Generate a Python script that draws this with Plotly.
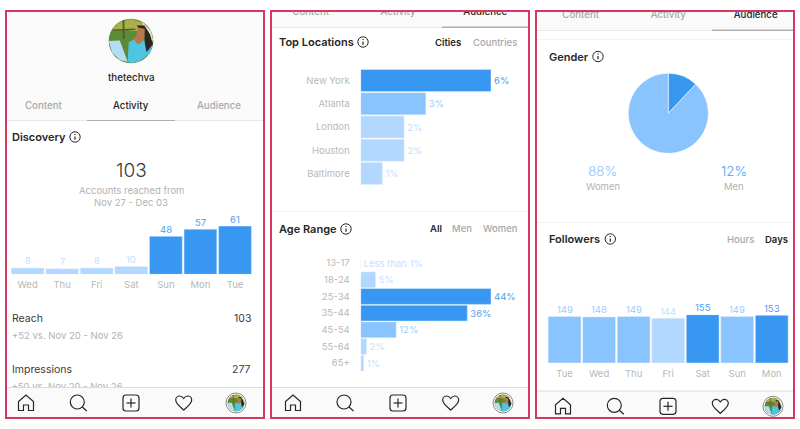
import re
import plotly.graph_objects as go

W, H = 800, 429

# chart data
discovery_days = ["Wed", "Thu", "Fri", "Sat", "Sun", "Mon", "Tue"]
discovery_values = [8, 7, 8, 10, 48, 57, 61]
location_names = ["New York", "Atlanta", "London", "Houston", "Baltimore"]
location_values = [6, 3, 2, 2, 1]
age_names = ["13-17", "18-24", "25-34", "35-44", "45-54", "55-64", "65+"]
age_values = [0, 5, 44, 36, 12, 2, 1]
age_labels = ["Less than 1%", "5%", "44%", "36%", "12%", "2%", "1%"]
gender_names = ["Men", "Women"]
gender_values = [12, 88]
follower_days = ["Tue", "Wed", "Thu", "Fri", "Sat", "Sun", "Mon"]
follower_values = [149, 148, 149, 144, 155, 149, 153]

DARK = "#3897f0"
MID = "#8ac4ff"
LIGHT = "#b3d8ff"
TEXT_DARK = "#4a9ff2"
TEXT_MID = "#9accff"
TEXT_LIGHT = "#c4e0ff"
INK = "#262626"
GREY = "#b2b2b2"
TICK = "#b8b8b8"
PINK = "#d63864"
FONT = "Inter"


def px(x):
    return x / W


def py(y):
    return 1 - y / H


def path_px(d):
    # turn an svg path written in screen pixels into paper coordinates
    tokens = re.findall(r"[A-Za-z]|-?\d+\.?\d*", d)
    out, is_x = [], True
    for t in tokens:
        if t.isalpha():
            out.append(t)
            is_x = True
        else:
            out.append(f"{px(float(t)):.5f}" if is_x else f"{py(float(t)):.5f}")
            is_x = not is_x
    return " ".join(out)


shapes = []
annotations = []


def rect(x0, y0, x1, y1, fill, layer="below"):
    shapes.append(dict(type="rect", xref="paper", yref="paper", x0=px(x0), x1=px(x1), y0=py(y0), y1=py(y1),
                       fillcolor=fill, line_width=0, layer=layer))


def circle(cx, cy, r, fill="rgba(0,0,0,0)", line=None, width=1):
    shapes.append(dict(type="circle", xref="paper", yref="paper", x0=px(cx - r), x1=px(cx + r),
                       y0=py(cy - r), y1=py(cy + r), fillcolor=fill,
                       line=dict(color=line or "rgba(0,0,0,0)", width=width if line else 0), layer="above"))


def path(d, fill="rgba(0,0,0,0)", line=INK, width=1.2):
    shapes.append(dict(type="path", xref="paper", yref="paper", path=path_px(d), fillcolor=fill,
                       line=dict(color=line, width=width), layer="above"))


def label(x, y, text, size=10.5, color=GREY, anchor="left", weight=400):
    annotations.append(dict(xref="paper", yref="paper", x=px(x), y=py(y), text=text, showarrow=False,
                            xanchor=anchor, yanchor="middle", borderpad=0, borderwidth=0,
                            font=dict(family=FONT, size=size, color=color, weight=weight)))


def bar_labels(days, values, colors, xref, yref):
    # value labels sit closer to the bars than the trace's own outside text can
    for day, v, c in zip(days, values, colors):
        annotations.append(dict(xref=xref, yref=yref, x=day, y=v, text=str(v), showarrow=False, yanchor="bottom",
                                yshift=1.5, borderpad=0, borderwidth=0, font=dict(family=FONT, size=9.5, color=c)))


def info(cx, cy):
    circle(cx, cy, 5.2, line=INK, width=1)
    path(f"M {cx} {cy - 0.6} L {cx} {cy + 2.8}", width=1.2)
    path(f"M {cx} {cy - 3} L {cx} {cy - 2}", width=1.2)


# rough copy of the profile picture, unit circle coordinates
PHOTO = [
    ("#a9b04a", [(-.6, -.8), (0, -1), (.6, -.8), (.95, -.3), (.3, -.45), (-.3, -.5), (-.85, -.5)]),
    ("#5b5430", [(-.38, -.92), (-.3, -.95), (-.28, -.1), (-.36, -.1)]),
    ("#5b5430", [(-.8, -.52), (.2, -.56), (.2, -.5), (-.85, -.46)]),
    ("#dfe3c2", [(.5, -.85), (.9, -.45), (1, 0), (.7, -.1)]),
    ("#b5dcf5", [(-1, 0), (-.5, -.02), (-.15, .93), (-.5, .85), (-.85, .5)]),
    ("#4ec6e2", [(-.1, .05), (.3, -.15), (.55, -.02), (.85, .1), (.98, .2), (.85, .55), (.4, .9), (0, 1), (-.15, .93)]),
    ("#2d2320", [(.25, -.7), (.6, -.7), (.85, -.3), (.98, .15), (.7, .5), (.62, .1), (.6, -.3)]),
    ("#b9784e", [(.3, -.6), (.62, -.55), (.6, -.15), (.45, .1), (.3, .15), (.1, -.1), (.25, -.25)]),
]


def avatar(cx, cy, r):
    circle(cx, cy, r, fill="#5d8a35")
    for color, pts in PHOTO:
        d = "M " + " L ".join(f"{cx + u * r:.2f} {cy + v * r:.2f}" for u, v in pts) + " Z"
        path(d, fill=color, line=color, width=0)


def nav_icons(xs, cy):
    x = xs[0]
    path(f"M {x - 7.5} {cy + 7.5} L {x - 7.5} {cy - 1.5} L {x} {cy - 8} L {x + 7.5} {cy - 1.5} L {x + 7.5} {cy + 7.5} "
         f"L {x + 2.5} {cy + 7.5} L {x + 2.5} {cy + 2} L {x - 2.5} {cy + 2} L {x - 2.5} {cy + 7.5} Z")
    x = xs[1]
    circle(x - 1, cy - 1, 7, line=INK, width=1.2)
    path(f"M {x + 4} {cy + 4} L {x + 8.5} {cy + 8}")
    x = xs[2]
    path(f"M {x - 5} {cy - 8} L {x + 5} {cy - 8} Q {x + 8} {cy - 8} {x + 8} {cy - 5} L {x + 8} {cy + 5} "
         f"Q {x + 8} {cy + 8} {x + 5} {cy + 8} L {x - 5} {cy + 8} Q {x - 8} {cy + 8} {x - 8} {cy + 5} "
         f"L {x - 8} {cy - 5} Q {x - 8} {cy - 8} {x - 5} {cy - 8} Z")
    path(f"M {x - 4.5} {cy} L {x + 4.5} {cy}")
    path(f"M {x} {cy - 4.5} L {x} {cy + 4.5}")
    x = xs[3]
    path(f"M {x} {cy + 7} C {x - 2} {cy + 5} {x - 8} {cy + 1} {x - 8} {cy - 3} C {x - 8} {cy - 6} {x - 5.5} {cy - 7} {x - 4} {cy - 7} "
         f"C {x - 2} {cy - 7} {x - 0.7} {cy - 5.5} {x} {cy - 4.5} C {x + 0.7} {cy - 5.5} {x + 2} {cy - 7} {x + 4} {cy - 7} "
         f"C {x + 5.5} {cy - 7} {x + 8} {cy - 6} {x + 8} {cy - 3} C {x + 8} {cy + 1} {x + 2} {cy + 5} {x} {cy + 7} Z")
    x = xs[4]
    circle(x, cy, 10, fill="#ffffff", line="#8a8a8a", width=1)
    avatar(x, cy, 8.5)


# panel backgrounds
rect(6, 11, 264, 418, "#ffffff")
rect(271, 11, 529, 418, "#ffffff")
rect(536, 11, 794, 418, "#ffffff")
rect(6, 11, 264, 120, "#fafafa")
rect(271, 11, 529, 27, "#fafafa")
rect(536, 11, 794, 30, "#fafafa")
rect(6, 387, 264, 418, "#fafafa")
rect(271, 387, 529, 418, "#fafafa")
rect(536, 391, 794, 418, "#fafafa")

# dividers and active tab lines
rect(6, 120, 264, 121, "#e8e8e8")
rect(87, 120, 175, 121, "#b0b0b0")
rect(271, 27, 529, 28, "#e8e8e8")
rect(442, 26.5, 529, 28, "#b0b0b0")
rect(536, 30, 794, 31, "#e8e8e8")
rect(712, 29.5, 794, 31, "#b0b0b0")
rect(536, 39, 794, 40, "#f2f2f2")
rect(536, 222, 794, 223, "#f2f2f2")
rect(271, 211, 529, 212, "#f2f2f2")
rect(6, 387, 264, 388, "#dbdbdb")
rect(271, 387, 529, 388, "#dbdbdb")
rect(536, 390.5, 794, 391.5, "#dbdbdb")

# first panel text
avatar(131, 41, 22.3)
label(131, 77, "thetechva", 9.8, INK, "center", 500)
label(43.7, 105, "Content", 9.7, "#a8a8a8", "center", 500)
label(131, 105, "Activity", 9.7, INK, "center", 500)
label(218.7, 105, "Audience", 9.7, "#a8a8a8", "center", 500)
label(11.5, 137, "Discovery", 11, INK, "left", 600)
info(75, 137)
label(131, 171, "103", 19, "#3a3a3a", "center", 300)
label(131, 190.5, "Accounts reached from", 9.5, GREY, "center")
label(131, 202, "Nov 27 - Dec 03", 9.5, GREY, "center")
label(11.5, 318, "Reach", 10.5, "#3a3a3a")
label(250.5, 318, "103", 10.5, "#3a3a3a", "right")
label(11.5, 335, "+52 vs. Nov 20 - Nov 26", 9.5, GREY)
label(11.5, 369, "Impressions", 10.5, "#3a3a3a")
label(250.5, 369, "277", 10.5, "#3a3a3a", "right")

# second panel text
label(278.7, 42, "Top Locations", 11, INK, "left", 600)
info(363, 42)
label(448, 42.5, "Cities", 9.5, INK, "center", 600)
label(495, 42.5, "Countries", 9.5, "#a8a8a8", "center", 500)
label(278.7, 228.7, "Age Range", 11, INK, "left", 600)
info(346, 229)
label(435.7, 228.7, "All", 9.5, INK, "center", 600)
label(462.3, 228.7, "Men", 9.5, "#a8a8a8", "center", 500)
label(500.3, 228.7, "Women", 9.5, "#a8a8a8", "center", 500)

# third panel text
label(548.7, 56.5, "Gender", 11, INK, "left", 600)
info(598, 56.5)
label(602.7, 171, "88%", 13.5, MID, "center", 300)
label(602.7, 186.5, "Women", 9.5, GREY, "center")
label(733.7, 171, "12%", 13.5, TEXT_DARK, "center", 300)
label(733.7, 186.5, "Men", 9.5, GREY, "center")
label(548.7, 239, "Followers", 11, INK, "left", 600)
info(610.3, 239)
label(740, 239.5, "Hours", 9.5, "#a8a8a8", "center", 500)
label(776.3, 239.5, "Days", 9.5, INK, "center", 600)

nav_icons([26, 78.3, 131, 183.7, 236], 403)
nav_icons([293, 345, 398, 450.7, 503], 403)
nav_icons([563, 615.3, 668, 720.3, 773], 406.3)

# panel frames go last so they sit over everything
for x0, x1 in [(6, 264), (271, 529), (536, 794)]:
    shapes.append(dict(type="rect", xref="paper", yref="paper", x0=px(x0), x1=px(x1), y0=py(11), y1=py(418),
                       fillcolor="rgba(0,0,0,0)", line=dict(color=PINK, width=2), layer="above"))

fig = go.Figure()

discovery_colors = [LIGHT] * 4 + [DARK] * 3
discovery_text_colors = [TEXT_LIGHT] * 4 + [TEXT_DARK] * 3
fig.add_trace(go.Bar(x=discovery_days, y=discovery_values, xaxis="x", yaxis="y", marker_color=discovery_colors))
bar_labels(discovery_days, discovery_values, discovery_text_colors, "x", "y")

location_colors = [DARK, MID, LIGHT, LIGHT, LIGHT]
location_text_colors = [TEXT_DARK, TEXT_MID, TEXT_LIGHT, TEXT_LIGHT, TEXT_LIGHT]
fig.add_trace(go.Bar(x=location_values, y=location_names, orientation="h", xaxis="x2", yaxis="y2",
                     text=[f"{v}%" for v in location_values], marker_color=location_colors, textposition="outside",
                     cliponaxis=False, constraintext="none",
                     textfont=dict(family=FONT, size=9.5, color=location_text_colors)))

age_colors = [LIGHT, LIGHT, DARK, DARK, MID, LIGHT, LIGHT]
age_text_colors = [TEXT_LIGHT, TEXT_LIGHT, TEXT_DARK, TEXT_DARK, TEXT_MID, TEXT_LIGHT, TEXT_LIGHT]
fig.add_trace(go.Bar(x=age_values, y=age_names, orientation="h", xaxis="x3", yaxis="y3", text=age_labels,
                     marker_color=age_colors, textposition="outside", cliponaxis=False, constraintext="none",
                     textfont=dict(family=FONT, size=9.5, color=age_text_colors)))

follower_colors = [MID, MID, MID, LIGHT, DARK, MID, DARK]
follower_text_colors = [TEXT_MID, TEXT_MID, TEXT_MID, TEXT_LIGHT, TEXT_DARK, TEXT_MID, TEXT_DARK]
fig.add_trace(go.Bar(x=follower_days, y=follower_values, xaxis="x4", yaxis="y4", marker_color=follower_colors))
bar_labels(follower_days, follower_values, follower_text_colors, "x4", "y4")

fig.add_trace(go.Pie(labels=gender_names, values=gender_values, sort=False, direction="clockwise", rotation=0,
                     marker=dict(colors=[DARK, MID], line=dict(color="#ffffff", width=0.5)), textinfo="none",
                     showlegend=False, domain=dict(x=[px(628.3), px(708.3)], y=[py(153.3), py(73.3)])))

# text that the original cuts off: clipped by the range of these page-sized axes
fig.add_trace(go.Scatter(x=[11.5], y=[387.5], text=["+50 vs. Nov 20 - Nov 26"], mode="text", xaxis="x5", yaxis="y5",
                         textposition="middle right", textfont=dict(family=FONT, size=9.5, color=GREY)))
fig.add_trace(go.Scatter(x=[310.7, 398, 485.3, 580.7, 668.3, 755.7], y=[13, 13, 13, 16, 16, 16],
                         text=["Content", "Activity", "Audience", "Content", "Activity", "Audience"],
                         mode="text", xaxis="x6", yaxis="y6", textposition="middle center",
                         textfont=dict(family=FONT, size=9.7, weight=500,
                                       color=["#a8a8a8", "#a8a8a8", INK, "#a8a8a8", "#a8a8a8", INK]),))


def cat_axis(x0, x1, anchor, **kw):
    return dict(domain=[px(x0), px(x1)], anchor=anchor, showgrid=False, zeroline=False, showline=False, ticks="",
                fixedrange=True, tickfont=dict(family=FONT, size=9.5, color=TICK), **kw)


def value_axis(y0, y1, anchor, top):
    return dict(domain=[py(y1), py(y0)], anchor=anchor, range=[0, top], visible=False, fixedrange=True)


fig.update_layout(
    width=W, height=H, margin=dict(l=0, r=0, t=0, b=0), autosize=False,
    paper_bgcolor="#ffffff", plot_bgcolor="rgba(0,0,0,0)", showlegend=False, bargap=0.05,
    shapes=shapes, annotations=annotations,
    xaxis=cat_axis(10.3, 252.3, "y", ticklabelstandoff=3),
    yaxis=value_axis(226, 274.3, "x", max(discovery_values)),
    xaxis2=dict(domain=[px(360.7), px(491)], anchor="y2", range=[0, max(location_values)], visible=False, fixedrange=True),
    yaxis2=dict(domain=[py(185.1), py(68.9)], anchor="x2", autorange="reversed", showgrid=False, zeroline=False,
                showline=False, fixedrange=True, ticklabelstandoff=10, tickfont=dict(family=FONT, size=9.5, color=TICK)),
    xaxis3=dict(domain=[px(360.7), px(491)], anchor="y3", range=[0, max(age_values)], visible=False, fixedrange=True),
    yaxis3=dict(domain=[py(371.5), py(254.8)], anchor="x3", autorange="reversed", showgrid=False, zeroline=False,
                showline=False, fixedrange=True, ticklabelstandoff=10, tickfont=dict(family=FONT, size=9.5, color=TICK)),
    xaxis4=cat_axis(547.3, 789, "y4", ticklabelstandoff=3),
    yaxis4=value_axis(314.7, 363, "x4", max(follower_values)),
    xaxis5=dict(domain=[0, 1], anchor="y5", range=[0, W], visible=False, fixedrange=True),
    yaxis5=dict(domain=[py(387), 1], anchor="x5", range=[387, 0], visible=False, fixedrange=True),
    xaxis6=dict(domain=[0, 1], anchor="y6", range=[0, W], visible=False, fixedrange=True),
    yaxis6=dict(domain=[0, py(12)], anchor="x6", range=[H, 12], visible=False, fixedrange=True),
)

# the page body has a default margin, drop it so the figure fills the window
fig.write_html("out.html", config={"displayModeBar": False}, post_script="document.body.style.margin='0'")
